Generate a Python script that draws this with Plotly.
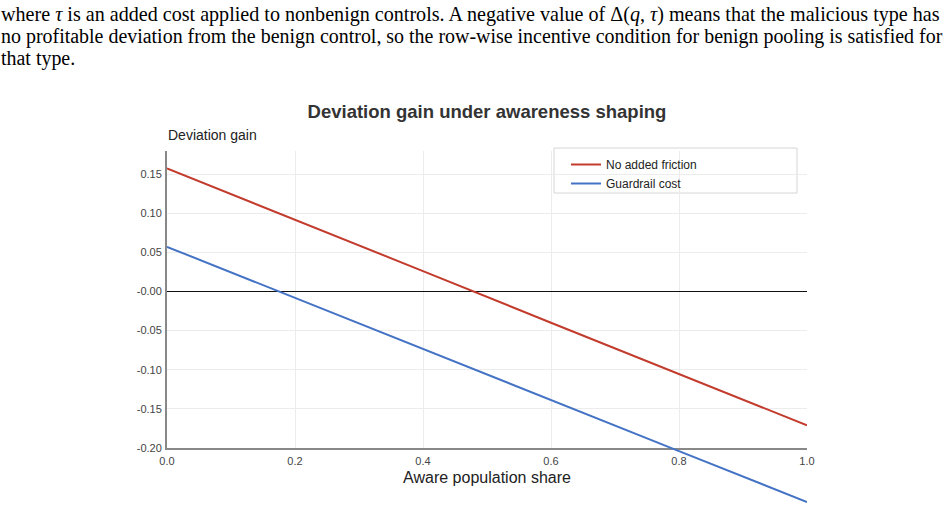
import plotly.graph_objects as go

# ---- data ----
aware_share = [0.0, 0.2, 0.4, 0.6, 0.8, 1.0]
no_friction = [0.157, 0.092, 0.026, -0.040, -0.105, -0.171]
guardrail = [0.057, -0.008, -0.074, -0.139, -0.204, -0.269]

x_tickvals = [0.0, 0.2, 0.4, 0.6, 0.8, 1.0]
x_ticktext = ["0.0", "0.2", "0.4", "0.6", "0.8", "1.0"]
y_tickvals = [-0.20, -0.15, -0.10, -0.05, 0.0, 0.05, 0.10, 0.15]
y_ticktext = ["-0.20", "-0.15", "-0.10", "-0.05", "-0.00", "0.05", "0.10", "0.15"]

paragraph = [
    "where <i>τ</i> is an added cost applied to nonbenign controls. A negative value of Δ(<i>q</i>, <i>τ</i>) means that the malicious type has",
    "no profitable deviation from the benign control, so the row-wise incentive condition for benign pooling is satisfied for",
    "that type.",
]
paragraph_sizes = [20.1, 19.95, 19.95]  # slight per-line sizing to imitate justified text

W, H = 950, 512
L, R, T, B = 167, 143, 0, 0
PW = W - L - R
PH = H - T - B


def px_x(px):
    return (px - L) / PW


def px_y(py):
    return (H - B - py) / PH


RED = "#c23b2c"
BLUE = "#4473c5"
FONT = "Liberation Sans, Arial, sans-serif"
SERIF = "Liberation Serif, Times New Roman, serif"

fig = go.Figure()
# empty trace so the visible axes subplot (x, y) is rendered
fig.add_trace(go.Scatter(x=[], y=[], mode="lines", showlegend=False, hoverinfo="skip",
                         xaxis="x", yaxis="y"))
fig.add_trace(go.Scatter(x=aware_share, y=no_friction, mode="lines", name="No added friction",
                         line=dict(color=RED, width=2), xaxis="x2", yaxis="y2"))
fig.add_trace(go.Scatter(x=aware_share, y=guardrail, mode="lines", name="Guardrail cost",
                         line=dict(color=BLUE, width=2), xaxis="x2", yaxis="y2"))

y_bottom_px, y_top_px = 448, 151
per_px = 0.35 / (448 - 174)
y_top_val = 0.15 + (174 - y_top_px) * per_px
y2_bottom_val = -0.20 - (H - y_bottom_px) * per_px

annotations = []
for i, (line, size) in enumerate(zip(paragraph, paragraph_sizes)):
    annotations.append(dict(text=line, x=px_x(0), y=px_y(14 + 22 * i), xref="paper", yref="paper",
                            xanchor="left", yanchor="middle", showarrow=False, borderpad=0,
                            font=dict(family=SERIF, size=size, color="#000")))
annotations.append(dict(text="Deviation gain", x=px_x(167), y=px_y(135), xref="paper", yref="paper",
                        xanchor="left", yanchor="middle", showarrow=False, borderpad=0,
                        font=dict(family=FONT, size=14, color="#222")))

fig.update_layout(
    width=W, height=H,
    margin=dict(l=L, r=R, t=T, b=B, pad=0, autoexpand=False),
    paper_bgcolor="white",
    plot_bgcolor="rgba(0,0,0,0)",
    font=dict(family=FONT, color="#333"),
    title=dict(text="<b>Deviation gain under awareness shaping</b>", x=0.5, xref="paper",
               y=(H - 112) / H, yref="container", xanchor="center", yanchor="middle",
               font=dict(family=FONT, size=18.5, color="#333")),
    xaxis=dict(domain=[0, 1], range=[0, 1], anchor="y", tickvals=x_tickvals, ticktext=x_ticktext,
               automargin=False, ticklabelstandoff=2,
               showgrid=True, gridcolor="#ececec", gridwidth=1, zeroline=False,
               showline=True, linecolor="#888", linewidth=2, ticks="",
               tickfont=dict(size=11, color="#444"),
               title=dict(text="Aware population share", font=dict(size=16, color="#222"), standoff=6)),
    yaxis=dict(domain=[px_y(y_bottom_px), px_y(y_top_px)], range=[-0.20, y_top_val], anchor="x",
               automargin=False,
               tickvals=y_tickvals, ticktext=y_ticktext, ticklabelstandoff=1,
               showgrid=True, gridcolor="#ececec", gridwidth=1,
               zeroline=True, zerolinecolor="#111", zerolinewidth=1,
               showline=True, linecolor="#888", linewidth=2, ticks="",
               tickfont=dict(size=11, color="#444")),
    xaxis2=dict(domain=[0, 1], range=[0, 1], anchor="y2", visible=False, automargin=False),
    yaxis2=dict(domain=[0, px_y(y_top_px)], range=[y2_bottom_val, y_top_val], anchor="x2",
                visible=False, automargin=False),
    legend=dict(x=px_x(566), y=px_y(150), xref="paper", yref="paper", xanchor="left", yanchor="top",
                bgcolor="rgba(0,0,0,0)", borderwidth=0, font=dict(size=12, color="#222"),
                tracegroupgap=0),
    shapes=[dict(type="rect", xref="paper", yref="paper", x0=px_x(554), x1=px_x(797),
                 y0=px_y(193), y1=px_y(148), line=dict(color="#d6d6d6", width=1),
                 fillcolor="white", layer="below")],
    annotations=annotations,
    showlegend=True,
)

fig.write_html("out.html")
